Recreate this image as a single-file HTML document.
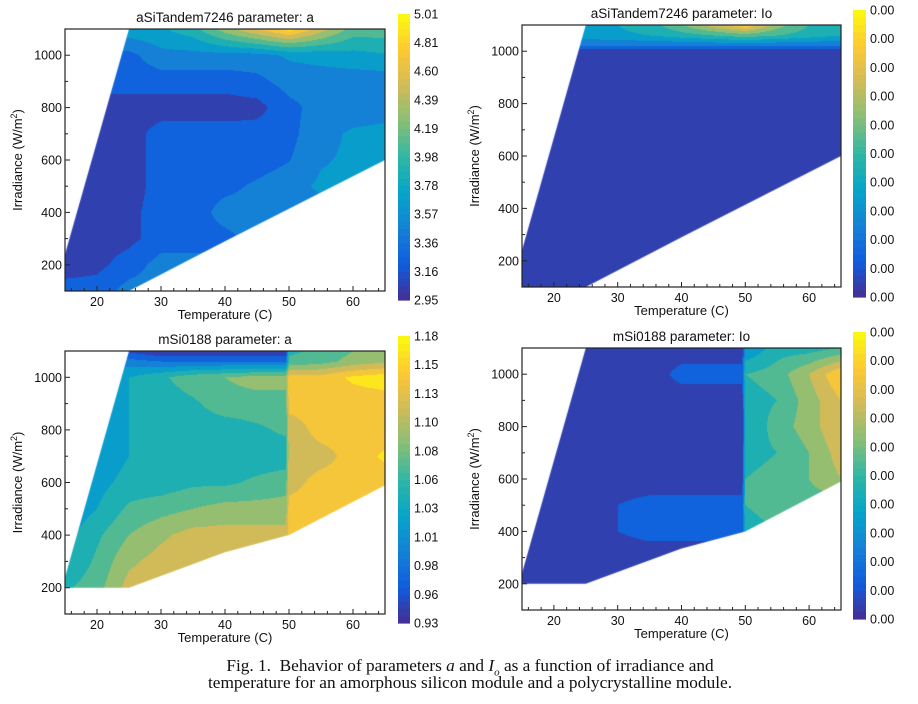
<!DOCTYPE html>
<html><head><meta charset="utf-8">
<style>
body{margin:0;background:#fff;width:918px;height:704px;overflow:hidden;position:relative;font-family:"Liberation Sans",sans-serif}
canvas{position:absolute}
svg{position:absolute;left:0;top:0}
.cap{position:absolute;left:0;width:940px;text-align:center;font-family:"Liberation Serif",serif;font-size:17.3px;color:#111;line-height:17px}
</style></head><body>
<div id="root"></div>
<svg id="svg" width="918" height="704"></svg>
<div class="cap" style="top:657px">Fig. 1.&nbsp; Behavior of parameters <i>a</i> and <i>I<sub style="font-size:11px;line-height:0">o</sub></i> as a function of irradiance and<br>temperature for an amorphous silicon module and a polycrystalline module.</div>
<script>
// ---- data ----
const tempsA = [15,20,25,30,35,40,45,50,55,60,65];
const irr1 = [100,200,300,400,500,600,700,800,900,1000,1100];
const vals1 = [
 [3.25,3.25,3.45,3.45,3.45,3.45,3.45,3.45,3.45,3.45,3.45],
 [3.05,3.10,3.25,3.45,3.45,3.45,3.45,3.45,3.45,3.45,3.45],
 [3.05,3.05,3.10,3.25,3.25,3.30,3.45,3.45,3.45,3.45,3.45],
 [3.05,3.05,3.10,3.25,3.25,3.45,3.45,3.45,3.50,3.50,3.50],
 [3.05,3.05,3.05,3.25,3.25,3.30,3.40,3.50,3.60,3.60,3.60],
 [3.05,3.05,3.05,3.25,3.25,3.25,3.25,3.35,3.55,3.60,3.65],
 [3.05,3.05,3.05,3.25,3.25,3.25,3.25,3.30,3.50,3.60,3.65],
 [3.05,3.05,3.05,3.05,3.05,3.05,3.08,3.30,3.45,3.45,3.45],
 [3.25,3.25,3.25,3.25,3.25,3.25,3.30,3.45,3.45,3.45,3.45],
 [3.30,3.30,3.30,3.50,3.50,3.50,3.50,3.60,3.65,3.70,3.75],
 [3.70,3.70,3.70,3.75,3.90,4.30,4.60,4.90,4.50,4.10,4.10]];
const irr2 = [100,1000,1020,1060,1100];
const vals2 = [
 [0.02,0.02,0.02,0.02,0.02,0.02,0.02,0.02,0.02,0.02,0.02],
 [0.02,0.02,0.02,0.02,0.02,0.02,0.02,0.02,0.02,0.02,0.02],
 [0.20,0.20,0.20,0.20,0.20,0.20,0.20,0.20,0.20,0.20,0.20],
 [0.35,0.35,0.35,0.38,0.40,0.45,0.50,0.55,0.50,0.45,0.40],
 [0.40,0.40,0.40,0.40,0.45,0.60,0.75,0.90,0.65,0.50,0.40]];
const tempsB = [15,20,25,30,35,40,45,49.5,50,55,60,65];
const irr3 = [200,300,400,500,600,700,800,900,1000,1060,1100];
const vals3 = [
 [1.05,1.07,1.115,1.115,1.115,1.115,1.115,1.115,1.14,1.14,1.14,1.14],
 [1.03,1.06,1.10,1.115,1.115,1.115,1.115,1.115,1.14,1.14,1.14,1.14],
 [1.02,1.05,1.08,1.10,1.115,1.115,1.115,1.115,1.14,1.14,1.14,1.14],
 [1.01,1.03,1.06,1.07,1.08,1.09,1.09,1.09,1.14,1.14,1.14,1.14],
 [1.00,1.02,1.04,1.04,1.05,1.05,1.06,1.07,1.12,1.14,1.14,1.14],
 [1.00,1.01,1.03,1.04,1.04,1.04,1.04,1.04,1.115,1.12,1.14,1.16],
 [1.00,1.01,1.03,1.04,1.04,1.04,1.05,1.06,1.115,1.14,1.14,1.14],
 [1.00,1.01,1.03,1.04,1.05,1.07,1.07,1.07,1.14,1.14,1.14,1.14],
 [1.00,1.01,1.03,1.05,1.07,1.08,1.09,1.09,1.14,1.14,1.16,1.17],
 [1.00,1.00,0.99,0.98,0.98,0.98,0.98,0.98,1.06,1.07,1.09,1.10],
 [1.02,1.02,0.95,0.93,0.93,0.93,0.93,0.93,1.05,1.06,1.08,1.10]];
const irr4 = [200,300,400,500,600,700,800,900,1000,1100];
const vals4 = [
 [0.02,0.02,0.02,0.02,0.02,0.02,0.02,0.02,0.45,0.45,0.50,0.50],
 [0.02,0.02,0.02,0.02,0.02,0.02,0.02,0.02,0.45,0.45,0.50,0.50],
 [0.02,0.02,0.02,0.10,0.15,0.15,0.15,0.15,0.45,0.50,0.50,0.50],
 [0.02,0.02,0.02,0.10,0.15,0.15,0.15,0.15,0.50,0.55,0.55,0.55],
 [0.02,0.02,0.02,0.02,0.02,0.02,0.02,0.02,0.50,0.55,0.60,0.70],
 [0.02,0.02,0.02,0.02,0.02,0.02,0.02,0.02,0.45,0.50,0.60,0.75],
 [0.02,0.02,0.02,0.02,0.02,0.02,0.02,0.02,0.40,0.55,0.65,0.80],
 [0.02,0.02,0.02,0.02,0.02,0.02,0.02,0.02,0.45,0.50,0.65,0.80],
 [0.02,0.02,0.02,0.02,0.02,0.15,0.15,0.15,0.50,0.55,0.70,0.90],
 [0.02,0.02,0.02,0.02,0.02,0.02,0.02,0.02,0.30,0.45,0.45,0.50]];
const cbLabels1 = ["5.01","4.81","4.60","4.39","4.19","3.98","3.78","3.57","3.36","3.16","2.95"];
const cbLabels3 = ["1.18","1.15","1.13","1.10","1.08","1.06","1.03","1.01","0.98","0.96","0.93"];
const cbLabelsIo = ["0.00","0.00","0.00","0.00","0.00","0.00","0.00","0.00","0.00","0.00","0.00"];
const xTicks = [20,30,40,50,60];
const yTicks = [200,400,600,800,1000];
const regionA = [[15,100],[15,240],[25,1100],[65,1100],[65,600],[40,290],[25,100]];
const regionB = [[15,200],[15,240],[25,1100],[65,1100],[65,590],[50,400],[40,335],[25,200]];

const parula=[[70,45,145],[15,92,221],[20,129,214],[6,164,202],[46,183,164],[135,191,119],[209,187,89],[254,200,50],[249,251,14]];
function cmap(t){t=Math.max(0,Math.min(1,t));const f=t*8,i=Math.min(7,Math.floor(f)),r=f-i;
 return parula[i].map((c,k)=>Math.round(c+(parula[i+1][k]-c)*r));}
function idx(a,v){for(let i=0;i<a.length-1;i++)if(v<=a[i+1])return i;return a.length-2;}
function interp(T,G,temps,irr,vals){
 const i=idx(temps,T),j=idx(irr,G);
 let u=(T-temps[i])/(temps[i+1]-temps[i]),w=(G-irr[j])/(irr[j+1]-irr[j]);
 u=Math.max(0,Math.min(1,u));w=Math.max(0,Math.min(1,w));
 const a=vals[j][i],b=vals[j][i+1],c=vals[j+1][i],d=vals[j+1][i+1];
 return a*(1-u)*(1-w)+b*u*(1-w)+c*(1-u)*w+d*u*w;}
const NS='http://www.w3.org/2000/svg';
const svg=document.getElementById('svg');
function el(tag,attrs,txt){const e=document.createElementNS(NS,tag);for(const k in attrs)e.setAttribute(k,attrs[k]);if(txt!=null)e.textContent=txt;svg.appendChild(e);return e;}

const panels=[
 {name:'asi-a',title:'aSiTandem7246 parameter: a',x0:65,x1:385,y0:29,y1:291,cb:[398,410,14,300],temps:tempsA,irr:irr1,vals:vals1,vmin:2.95,vmax:5.01,labels:cbLabels1,region:regionA},
 {name:'asi-io',title:'aSiTandem7246 parameter: Io',x0:522,x1:841,y0:25,y1:287,cb:[853,866,10,297],temps:tempsA,irr:irr2,vals:vals2,vmin:0,vmax:1,labels:cbLabelsIo,region:regionA},
 {name:'msi-a',title:'mSi0188 parameter: a',x0:65,x1:385,y0:351,y1:614,cb:[398,410,336,623],temps:tempsB,irr:irr3,vals:vals3,vmin:0.93,vmax:1.18,labels:cbLabels3,region:regionB},
 {name:'msi-io',title:'mSi0188 parameter: Io',x0:522,x1:841,y0:348,y1:610,cb:[853,866,332,619],temps:tempsB,irr:irr4,vals:vals4,vmin:0,vmax:1,labels:cbLabelsIo,region:regionB}];

panels.forEach(p=>{
 const W=p.x1-p.x0,H=p.y1-p.y0;
 const xs=T=>(T-15)/50*W, ys=G=>H-(G-100)/1000*H;
 const cv=document.createElement('canvas');cv.width=W;cv.height=H;
 cv.style.left=p.x0+'px';cv.style.top=p.y0+'px';
 
 
 document.body.insertBefore(cv,svg);
 const ctx=cv.getContext('2d');
 const img=ctx.createImageData(W,H);
 for(let py=0;py<H;py++)for(let px=0;px<W;px++){
  const T=15+(px+0.5)/W*50,G=100+(H-py-0.5)/H*1000;
  let t=(interp(T,G,p.temps,p.irr,p.vals)-p.vmin)/(p.vmax-p.vmin);
  t=(Math.min(9,Math.floor(t*10+1e-6))+0.5)/10;
  const c=cmap(t),o=(py*W+px)*4;img.data[o]=c[0];img.data[o+1]=c[1];img.data[o+2]=c[2];img.data[o+3]=255;}
 const tmp=document.createElement('canvas');tmp.width=W;tmp.height=H;tmp.getContext('2d').putImageData(img,0,0);
 ctx.beginPath();p.region.forEach((q,i)=>{const X=xs(q[0]),Y=ys(q[1]);i?ctx.lineTo(X,Y):ctx.moveTo(X,Y);});ctx.closePath();ctx.clip();
 ctx.drawImage(tmp,0,0);
 const box=el('rect',{x:p.x0,y:p.y0,width:W,height:H,fill:'none',stroke:'#222','stroke-width':1.2});
 
 const X=T=>p.x0+xs(T),Y=G=>p.y0+ys(G);
 for(let T=16;T<=64;T+=2){const mj=T%10===0;el('line',{x1:X(T),x2:X(T),y1:p.y1,y2:p.y1-(mj?5:3),stroke:'#222','stroke-width':1});}
 for(let G=200;G<=1000;G+=100){const mj=G%200===0;el('line',{x1:p.x0,x2:p.x0+(mj?5:3),y1:Y(G),y2:Y(G),stroke:'#222','stroke-width':1});}
 xTicks.forEach(T=>{const t=el('text',{x:X(T),y:p.y1+15,'font-size':12.5,'text-anchor':'middle',fill:'#111'},String(T));
  });
 yTicks.forEach(G=>{const t=el('text',{x:p.x0-3,y:Y(G)+4.5,'font-size':12.5,'text-anchor':'end',fill:'#111'},String(G));
  });
 const xt=el('text',{x:(p.x0+p.x1)/2,y:p.y1+28,'font-size':13,'text-anchor':'middle',fill:'#111'},'Temperature (C)');
 
 const yt=el('text',{x:0,y:0,'font-size':13,'text-anchor':'middle',fill:'#111',transform:`translate(${p.x0-43},${(p.y0+p.y1)/2}) rotate(-90)`});
 yt.innerHTML='Irradiance (W/m<tspan dy="-5" font-size="9">2</tspan><tspan dy="5">)</tspan>';
 
 const tt=el('text',{x:(p.x0+p.x1)/2,y:p.y0-7,'font-size':13.5,'text-anchor':'middle',fill:'#111'},p.title);
 
 const [cx0,cx1,cy0,cy1]=p.cb;const n=40;
 for(let k=0;k<n;k++){const c=cmap((k+0.5)/n);
  const r=el('rect',{x:cx0,y:cy1-(k+1)*(cy1-cy0)/n,width:cx1-cx0,height:(cy1-cy0)/n+0.6,fill:`rgb(${c})`});
  }
 p.labels.forEach((s,k)=>{const t=el('text',{x:cx1+4,y:cy0+k*(cy1-cy0)/10+4.5,'font-size':12.5,fill:'#111'},s);
  });
});
</script>
</body></html>
